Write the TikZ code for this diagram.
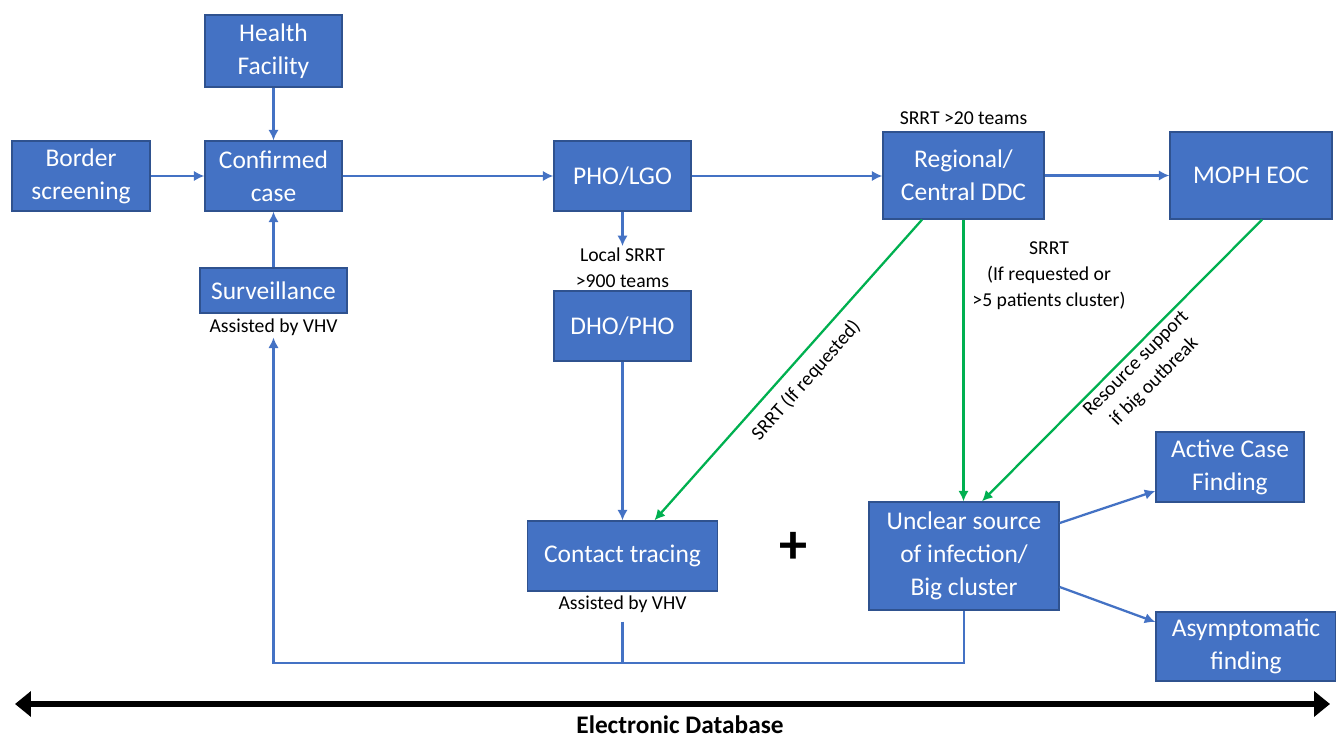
\documentclass[tikz,border=0pt]{standalone}
\usepackage{fontspec}
\setmainfont{Carlito}
\usetikzlibrary{arrows.meta}
\definecolor{boxblue}{HTML}{4472C4}
\definecolor{boxedge}{HTML}{2F528F}
\definecolor{linkgreen}{HTML}{00B050}
\begin{document}
\begin{tikzpicture}[
			x=0.02cm, y=-0.02cm,
			box/.style={draw=boxedge, line width=0.8pt, fill=boxblue, text=white, align=center,
					font=\fontsize{14.5}{18.8}\selectfont, inner sep=0pt},
			note/.style={align=center, font=\fontsize{11.2}{14.7}\selectfont, inner sep=1pt, text=black},
			flow/.style={-{Latex[length=6pt,width=6pt]}, boxblue, line width=1.3pt},
			support/.style={-{Latex[length=6pt,width=6pt]}, linkgreen, line width=1.3pt},
		]
		\path[use as bounding box] (0,0) rectangle (1336,739);
		% boxes
		\node[box, minimum width=2.74cm, minimum height=1.44cm] (hf) at (273.5,51) {Health\\Facility};
		\node[box, minimum width=2.76cm, minimum height=1.40cm] (bs) at (81,176) {Border\\screening};
		\node[box, minimum width=2.74cm, minimum height=1.40cm] (cc) at (273.5,176) {Confirmed\\case};
		\node[box, minimum width=2.94cm, minimum height=0.90cm] (sv) at (273.5,290.5) {Surveillance};
		\node[box, minimum width=2.74cm, minimum height=1.40cm] (pl) at (622.5,176) {PHO/LGO};
		\node[box, minimum width=2.74cm, minimum height=1.40cm] (dp) at (622.5,326) {DHO/PHO};
		\node[box, minimum width=3.22cm, minimum height=1.74cm] (rd) at (963.5,175.5) {Regional/\\Central DDC};
		\node[box, minimum width=3.24cm, minimum height=1.74cm] (me) at (1251,175.5) {MOPH EOC};
		\node[box, minimum width=3.80cm, minimum height=1.40cm] (ct) at (622.5,556) {Contact tracing};
		\node[box, minimum width=3.80cm, minimum height=2.16cm] (us) at (964,556) {Unclear source\\of infection/\\Big cluster};
		\node[box, minimum width=2.96cm, minimum height=1.40cm] (ac) at (1230,467) {Active Case\\Finding};
		\node[box, minimum width=3.60cm, minimum height=1.38cm] (af) at (1246,646.5) {Asymptomatic\\finding};
		% notes
		\node[note] (svvhv) at (273.5,327) {Assisted by VHV};
		\node[note] (ctvhv) at (622.5,604) {Assisted by VHV};
		\node[note] (lsrrt) at (622.5,268) {Local SRRT\\>900 teams};
		\node[note] (rsrrt) at (963.5,118) {SRRT >20 teams};
		\node[note] (csrrt) at (1049,276) {SRRT\\(If requested or\\>5 patients cluster)};
		\node[font=\fontsize{32}{32}\selectfont\bfseries, inner sep=0pt] (plus) at (793,548) {+};
		\coordinate (fb) at (273.5,663);
		% main flow
		\draw[flow] (hf) -- (cc);
		\draw[flow] (bs) -- (cc);
		\draw[flow] (sv) -- (cc);
		\draw[flow] (cc) -- (pl);
		\draw[flow] (pl.east) -- (rd.west |- pl.east);
		\draw[flow] (rd) -- (me);
		\draw[flow] (pl) -- (lsrrt);
		\draw[flow] (dp) -- (ct);
		\draw[flow] ([yshift=0.66cm]us.east) -- ([yshift=-0.48cm]ac.west);
		\draw[flow] ([yshift=-0.62cm]us.east) -- ([yshift=0.49cm]af.west);
		% feedback to surveillance
		\draw[flow] (us.south) |- (fb) -- (svvhv.south);
		\draw[boxblue, line width=1.3pt] ([yshift=-4pt]ctvhv.south) -- (ctvhv.south |- fb);
		% SRRT support
		\draw[support] ([xshift=-0.83cm]rd.south) -- ([xshift=0.64cm]ct.north)
		node[pos=0.49, sloped, below, note, inner sep=6pt] {SRRT (If requested)};
		\draw[support] (rd.south) -- (rd.south |- us.north);
		\draw[support] ([xshift=0.22cm]me.south) -- ([xshift=0.36cm]us.north)
		node[pos=0.48, sloped, below, note, inner sep=2pt] {Resource support\\if big outbreak};
		% database
		\coordinate (dbl) at (15,704);
		\coordinate (dbr) at (1330,704);
		\draw[{Triangle[length=9pt,width=14pt]}-{Triangle[length=9pt,width=14pt]}, line width=3.6pt] (dbl) -- (dbr);
		\node[font=\fontsize{14.4}{17}\selectfont\bfseries, inner sep=0pt] (db) at (680,725) {Electronic Database};
\end{tikzpicture}
\end{document}
